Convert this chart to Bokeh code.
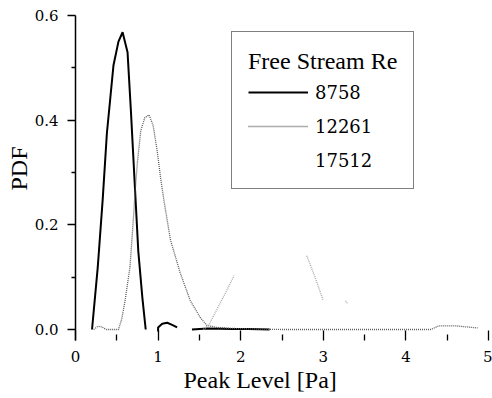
from bokeh.plotting import figure
from bokeh.models import Range1d, FixedTicker, Legend, LegendItem, NumeralTickFormatter, Title
from bokeh.embed import file_html
from bokeh.resources import INLINE
import numpy as np

# Free Stream Re = 8758 (solid black)
x_8758 = [0.20, 0.27, 0.33, 0.38, 0.42, 0.46, 0.52, 0.57, 0.63, 0.67, 0.72, 0.76, 0.81, 0.85,
          np.nan, 1.00, 1.00, 1.05, 1.11, 1.17, 1.23, np.nan, 1.41, 1.60, 1.90, 2.10, 2.35]
y_8758 = [0.0, 0.12, 0.25, 0.375, 0.44, 0.505, 0.55, 0.568, 0.53, 0.42, 0.27, 0.15, 0.06, 0.0,
          np.nan, -0.004, 0.004, 0.011, 0.013, 0.009, 0.004, np.nan, 0.0, 0.002, 0.001, 0.001, 0.0]

# Free Stream Re = 12261 (dotted grey)
x_12261 = [0.22, 0.27, 0.32, 0.37, 0.52, 0.56, 0.60, 0.66, 0.70, 0.72, 0.75, 0.79, 0.84, 0.89,
           0.94, 0.99, 1.03, 1.07, 1.15, 1.27, 1.39, 1.51, 1.59, 1.71, 1.90, 2.20, 2.50, 3.00,
           3.50, 4.00, 4.30, 4.40, 4.60, 4.80, 4.87]
y_12261 = [0.0, 0.006, 0.005, 0.0, 0.0, 0.02, 0.055, 0.12, 0.21, 0.26, 0.32, 0.38, 0.405, 0.41,
           0.39, 0.34, 0.29, 0.247, 0.171, 0.107, 0.055, 0.023, 0.008, 0.004, 0.002, 0.001, 0.0, 0.0,
           0.0, 0.0, 0.0, 0.007, 0.007, 0.004, 0.003]

# Free Stream Re = 17512 (faint, only fragments visible)
x_17512 = [1.55, 1.62, 1.70, 1.80, 1.92, np.nan, 2.80, 2.90, 3.00, np.nan, 3.27, 3.29]
y_17512 = [0.0, 0.01, 0.035, 0.065, 0.103, np.nan, 0.141, 0.10, 0.055, np.nan, 0.055, 0.05]

x_ticks = [0, 1, 2, 3, 4, 5]
y_ticks = [0.0, 0.2, 0.4, 0.6]
labels = ["8758", "12261", "17512"]

SERIF = "Liberation Serif"
NUMFONT = "DejaVu Serif"

p = figure(width=492, height=398, output_backend="svg", toolbar_location=None,
           x_range=Range1d(0, 5), y_range=Range1d(-0.021, 0.6),
           min_border_left=75, min_border_right=4, min_border_top=15, min_border_bottom=58)
p.outline_line_color = None
p.xgrid.visible = False
p.ygrid.visible = False
p.background_fill_color = "white"
p.border_fill_color = "white"

r1 = p.line(x_8758, y_8758, line_color="black", line_width=2)
r2 = p.line(x_12261, y_12261, line_color="#5a5a5a", line_width=1.3, line_dash="1 1")
r3 = p.line(x_17512, y_17512, line_color="#a8a8a8", line_width=1.3, line_dash="1 1")
r3_dummy = p.line([], [], line_alpha=0)

# axes
xa = p.xaxis[0]
xa.ticker = FixedTicker(ticks=x_ticks, minor_ticks=[0.5, 1.5, 2.5, 3.5, 4.5])
xa.axis_line_color = None
xa.major_tick_in = 10
xa.major_tick_out = 0
xa.minor_tick_in = 6
xa.minor_tick_out = 0
xa.major_tick_line_width = 1.3
xa.minor_tick_line_width = 1.3
xa.major_tick_line_color = "black"
xa.minor_tick_line_color = "black"
xa.major_label_text_font = NUMFONT
xa.major_label_text_font_size = "15px"
xa.major_label_text_color = "black"
xa.major_label_standoff = 10

ya = p.yaxis[0]
ya.ticker = FixedTicker(ticks=y_ticks, minor_ticks=[0.1, 0.3, 0.5])
ya.formatter = NumeralTickFormatter(format="0.0")
ya.axis_line_color = "black"
ya.axis_line_width = 1.5
ya.major_tick_in = 0
ya.major_tick_out = 8
ya.minor_tick_in = 0
ya.minor_tick_out = 4
ya.major_tick_line_width = 1.3
ya.minor_tick_line_width = 1.3
ya.major_tick_line_color = "black"
ya.minor_tick_line_color = "black"
ya.major_label_text_font = NUMFONT
ya.major_label_text_font_size = "15px"
ya.major_label_text_color = "black"
ya.major_label_standoff = 9

# axis titles
xt = Title(text="Peak Level [Pa]", align="left", offset=108, standoff=0,
           text_font=SERIF, text_font_size="24px", text_font_style="normal", text_color="black")
p.add_layout(xt, "below")
yt = Title(text="PDF", align="left", offset=150, standoff=0,
           text_font=SERIF, text_font_size="24px", text_font_style="normal", text_color="black")
p.add_layout(yt, "left")

legend = Legend(items=[LegendItem(label=labels[0], renderers=[r1]),
                       LegendItem(label=labels[1], renderers=[r2]),
                       LegendItem(label=labels[2], renderers=[r3_dummy])],
                location=(156, 151), title="Free Stream Re")
legend.margin = 0
legend.padding = 16
legend.spacing = 10
legend.glyph_width = 60
legend.glyph_height = 24
legend.label_height = 24
legend.label_width = 81
legend.label_standoff = 7
legend.title_standoff = 5
legend.title_text_font = SERIF
legend.title_text_font_size = "24px"
legend.title_text_font_style = "normal"
legend.title_text_color = "black"
legend.label_text_font = NUMFONT
legend.label_text_font_size = "18px"
legend.label_text_font_style = "normal"
legend.label_text_color = "black"
legend.border_line_color = "black"
legend.border_line_width = 1.2
legend.background_fill_color = "white"
legend.background_fill_alpha = 1
p.add_layout(legend, "center")

open("out.html", "w").write(file_html(p, INLINE))
